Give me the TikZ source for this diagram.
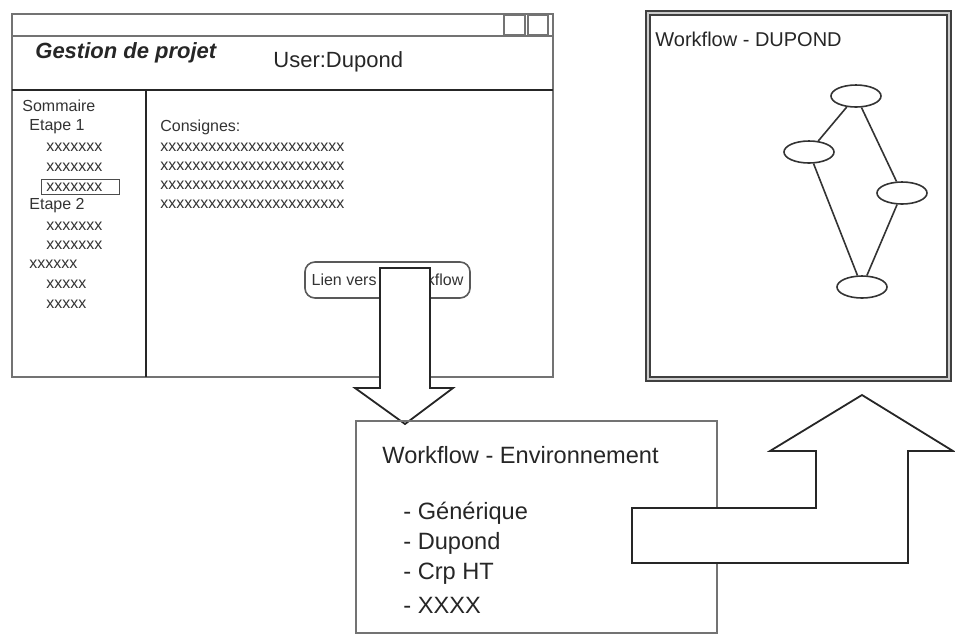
\documentclass[tikz,border=0pt]{standalone}
\usepackage{fontspec}
\setmainfont{Liberation Sans}
\usetikzlibrary{shapes.geometric}
\begin{document}
\begin{tikzpicture}[x=0.5pt,y=-0.5pt,
  winline/.style={draw=black!55,line width=0.8pt},
  sepline/.style={draw=black!85,line width=1.1pt},
  smalltxt/.style={anchor=west,inner sep=0pt,font=\fontsize{8}{9}\selectfont,text=black!80},
  envtxt/.style={anchor=west,inner sep=0pt,font=\fontsize{11.8}{14}\selectfont,text=black!85},
  blockarrow/.style={draw=black!85,fill=white,line width=0.9pt,line join=miter},
  state/.style={ellipse,draw=black!80,fill=white,line width=0.8pt,minimum width=25pt,minimum height=11pt,inner sep=0pt}]

\useasboundingbox (0,0) rectangle (955,634);

% Main window
\draw[winline] (12,14) rectangle (553,377);
\draw[winline] (12,36) -- (553,36);
\draw[winline] (504,15) rectangle (525,35);
\draw[winline] (528,15) rectangle (548,35);
\draw[sepline] (12,90) -- (553,90);
\draw[sepline] (146,90) -- (146,377);

\node[anchor=west,inner sep=0pt,font=\fontsize{11}{13}\selectfont\bfseries\itshape,text=black!85] (title) at (35,53) {Gestion de projet};
\node[anchor=west,inner sep=0pt,font=\fontsize{11}{13}\selectfont,text=black!85] (user) at (273,62) {User:Dupond};

% Sommaire
\node[smalltxt] (somm) at (22,106) {Sommaire};
\node[smalltxt] (etape1) at (29,127) {Etape 1};
\node[smalltxt] (e1a) at (46,147) {xxxxxxx};
\node[smalltxt] (e1b) at (46,167) {xxxxxxx};
\node[smalltxt,draw=black!70,inner xsep=2.5pt,inner ysep=1.5pt,text width=34pt] (e1c) at (41,187) {xxxxxxx};
\node[smalltxt] (etape2) at (29,206) {Etape 2};
\node[smalltxt] (e2a) at (46,226) {xxxxxxx};
\node[smalltxt] (e2b) at (46,245) {xxxxxxx};
\node[smalltxt] (e3) at (29,264) {xxxxxx};
\node[smalltxt] (e3a) at (46,284) {xxxxx};
\node[smalltxt] (e3b) at (46,304) {xxxxx};

% Consignes
\node[smalltxt] (consignes) at (160,127) {Consignes:};
\foreach \yy [count=\i] in {147,166,185,204}
  \node[smalltxt] (ligne\i) at (160,\yy) {xxxxxxxxxxxxxxxxxxxxxxx};

% Button
\node[draw=black!65,rounded corners=5pt,line width=0.8pt,minimum width=81.5pt,minimum height=18pt,
  font=\fontsize{8}{9}\selectfont,text=black!80] (lien) at (387.5,280) {Lien vers le Workflow};

% Arrow down
\draw[blockarrow] (380,268) -- (430,268) -- (430,388) -- (453,388) -- (405,424) -- (355,388) -- (380,388) -- cycle;

% Environment window
\node[draw=black!55,line width=0.8pt,anchor=north west,inner sep=0pt,minimum width=180.5pt,minimum height=106pt] (envbox) at (355,420) {};
\node[envtxt] (envtitle) at (382,455) {Workflow - Environnement};
\node[envtxt] (generique) at (403,513) {- Générique};
\node[envtxt] (dupond) at (403,543) {- Dupond};
\node[envtxt] (crp) at (403,574) {- Crp HT};
\node[envtxt] (xxxx) at (403,605) {- XXXX};

% Arrow up
\draw[blockarrow] (632,508) -- (816,508) -- (816,451) -- (770,451) -- (862,395) -- (953,451) -- (908,451) -- (908,563) -- (632,563) -- cycle;

% Workflow window
\draw[draw=black!75,double=black!20,double distance=0.8pt,line width=1pt] (648,13) rectangle (949,379);
\node[anchor=west,inner sep=0pt,font=\fontsize{10}{12}\selectfont,text=black!85] (wftitle) at (655,39) {Workflow - DUPOND};

\node[state] (n1) at (856,96) {};
\node[state] (n2) at (809,152) {};
\node[state] (n3) at (902,193) {};
\node[state] (n4) at (862,287) {};
\draw[black!80,line width=0.8pt] (n1) -- (n2) (n1) -- (n3) (n2) -- (n4) (n3) -- (n4);

\end{tikzpicture}
\end{document}
